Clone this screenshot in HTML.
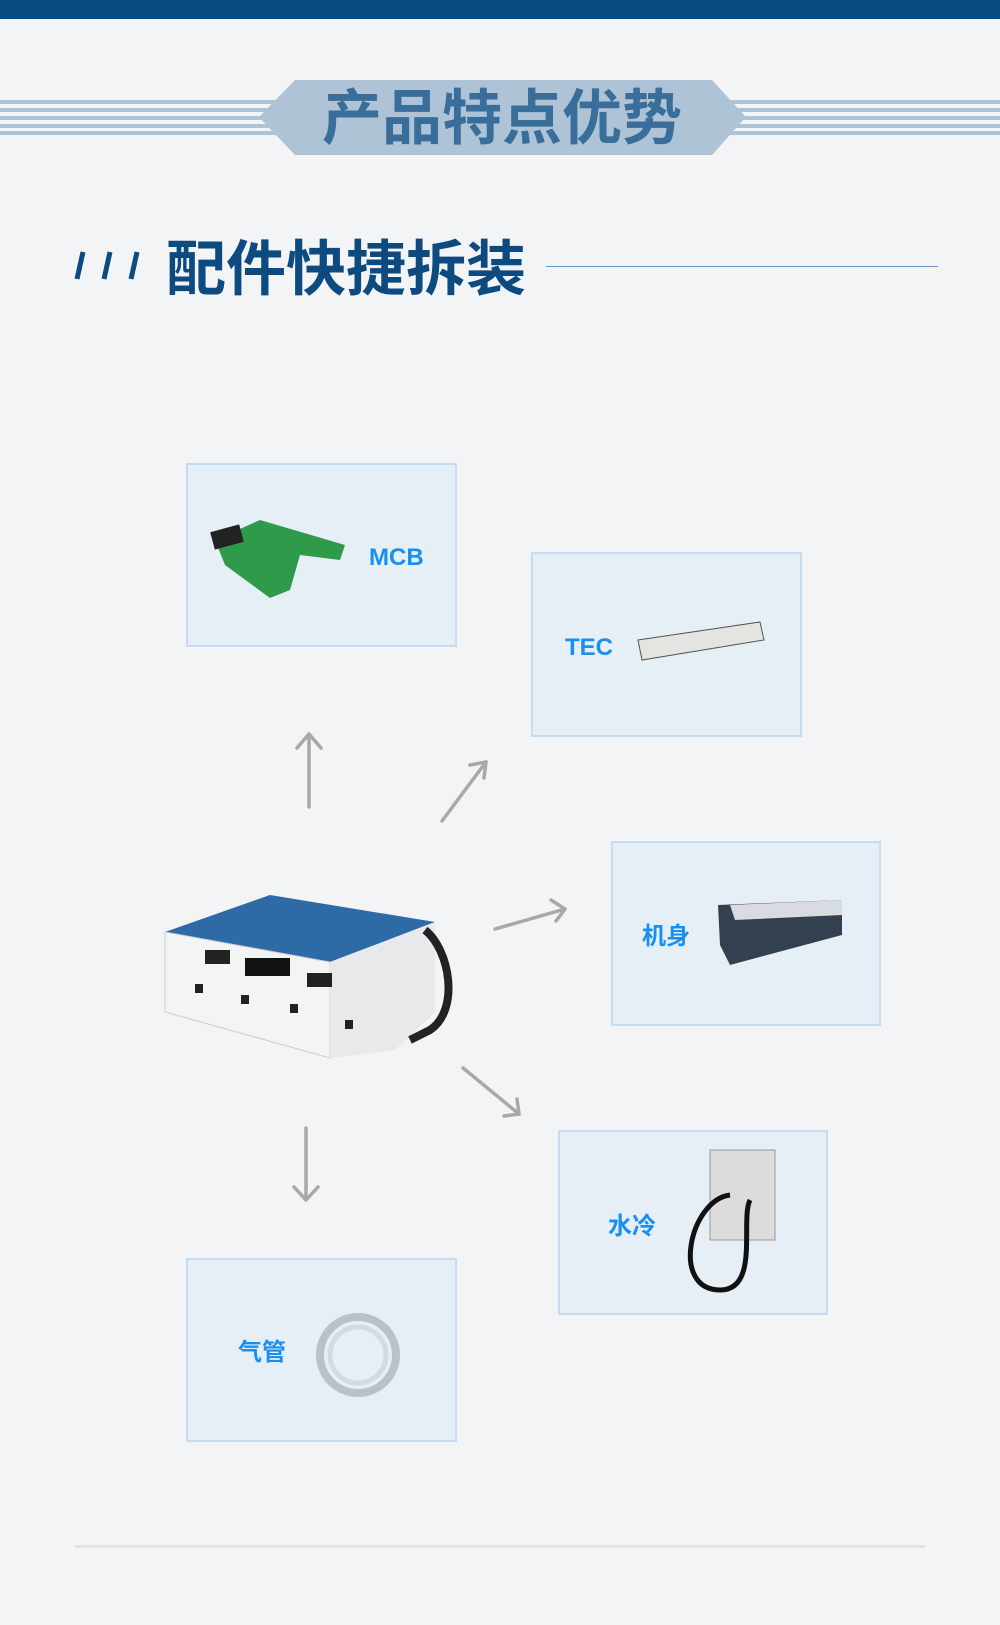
<!DOCTYPE html>
<html><head><meta charset="utf-8"><style>
html,body{margin:0;padding:0;background:#f3f4f6;}
svg{display:block}
text{font-family:"Liberation Sans","Noto Sans CJK SC",sans-serif;font-weight:bold}
</style></head><body>
<svg width="1000" height="1625" viewBox="0 0 1000 1625" xmlns="http://www.w3.org/2000/svg">
<rect width="1000" height="1625" fill="#f3f4f6"/>
<rect width="1000" height="19" fill="#074a80"/>
<g fill="#aec3d6">
<rect x="0" y="100" width="1000" height="4"/>
<rect x="0" y="108" width="1000" height="4"/>
<rect x="0" y="116" width="1000" height="4"/>
<rect x="0" y="124" width="1000" height="4"/>
<rect x="0" y="131" width="1000" height="4"/>
</g>
<polygon points="295,80 712,80 746,117 712,155 295,155 259,117" fill="#aec3d6"/>
<text x="502" y="139" font-size="60" fill="#3a6e9a" text-anchor="middle">产品特点优势</text>
<g stroke="#0c4a80" stroke-width="5">
<line x1="77" y1="279" x2="83" y2="252"/>
<line x1="104" y1="279" x2="110" y2="252"/>
<line x1="131" y1="279" x2="137" y2="252"/>
</g>
<text x="166" y="290" font-size="60" fill="#0c4a80" textLength="360" lengthAdjust="spacingAndGlyphs">配件快捷拆装</text>
<rect x="546" y="266" width="392" height="1" fill="#6d93b8"/>
<g fill="#e6eef6" stroke="#c6dcf2" stroke-width="2">
<rect x="187" y="464" width="269" height="182"/>
<rect x="532" y="553" width="269" height="183"/>
<rect x="612" y="842" width="268" height="183"/>
<rect x="559" y="1131" width="268" height="183"/>
<rect x="187" y="1259" width="269" height="182"/>
</g>
<g fill="#1a8ff0" font-size="24">
<text x="369" y="565">MCB</text>
<text x="565" y="655">TEC</text>
<text x="642" y="944">机身</text>
<text x="608" y="1234">水冷</text>
<text x="238" y="1360">气管</text>
</g>
<polygon points="215,540 260,520 345,545 340,560 300,555 290,590 270,598 225,565" fill="#2f9a4a"/>
<rect x="212" y="528" width="30" height="18" fill="#222" transform="rotate(-15 227 537)"/>
<polygon points="638,640 760,622 764,640 642,660" fill="#e4e4e0" stroke="#555" stroke-width="1"/>
<polygon points="718,905 842,900 842,935 730,965 720,945" fill="#33404f"/>
<polygon points="730,905 842,900 842,915 735,920" fill="#d8dce0"/>
<rect x="710" y="1150" width="65" height="90" fill="#dcdcdc" stroke="#999"/>
<path d="M730 1195 C690 1200 670 1290 720 1290 C760 1290 740 1220 750 1200" stroke="#111" stroke-width="5" fill="none"/>
<circle cx="358" cy="1355" r="38" fill="none" stroke="#b9c2c8" stroke-width="8"/>
<circle cx="358" cy="1355" r="28" fill="none" stroke="#d5dade" stroke-width="5"/>
<polygon points="165,932 270,895 435,922 330,962" fill="#2e6aa6"/>
<polygon points="165,932 330,962 330,1058 165,1012" fill="#f3f4f4" stroke="#ccc"/>
<polygon points="330,962 435,922 435,1012 395,1050 330,1058" fill="#e8e9ea"/>
<rect x="245" y="958" width="45" height="18" fill="#111"/>
<rect x="205" y="950" width="25" height="14" fill="#222"/>
<rect x="307" y="973" width="25" height="14" fill="#222"/>
<path d="M425 930 C450 950 460 1010 430 1030 L410 1040" stroke="#222" stroke-width="8" fill="none"/>
<rect x="195" y="984" width="8" height="9" fill="#222"/><rect x="241" y="995" width="8" height="9" fill="#222"/>
<rect x="290" y="1004" width="8" height="9" fill="#222"/><rect x="345" y="1020" width="8" height="9" fill="#222"/>
<g stroke="#a8a8a8" stroke-width="3.5" fill="none" stroke-linecap="round" stroke-linejoin="round">
<line x1="309" y1="807" x2="309" y2="735"/><polyline points="297,748 309,734 321,748"/>
<line x1="442" y1="821" x2="486" y2="762"/><polyline points="470,765 486,762 484,778"/>
<line x1="495" y1="929" x2="565" y2="909"/><polyline points="551,900 565,909 556,921"/>
<line x1="463" y1="1068" x2="519" y2="1114"/><polyline points="504,1116 519,1114 517,1099"/>
<line x1="306" y1="1128" x2="306" y2="1200"/><polyline points="294,1187 306,1200 318,1187"/>
</g>
<rect x="75" y="1545" width="850" height="3" fill="#e2e3e5"/>
</svg>
</body></html>
